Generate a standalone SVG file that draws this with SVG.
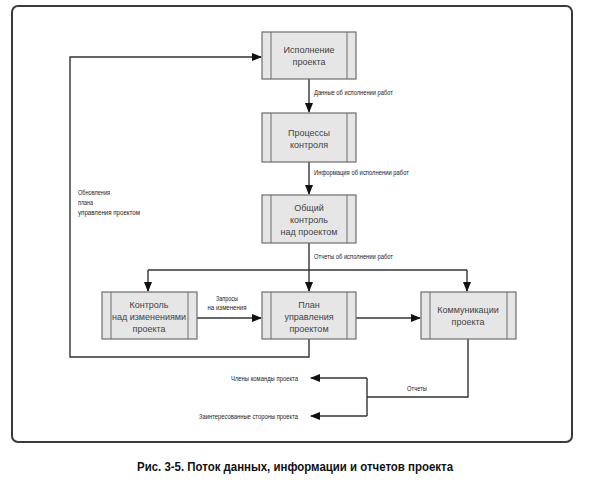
<svg xmlns="http://www.w3.org/2000/svg" width="591" height="485" viewBox="0 0 591 485">
<style>
.box{fill:#e6e6e6;stroke:#6d6d6d;stroke-width:1.2}
.in{stroke:#6d6d6d;stroke-width:1}
.bt{font-family:"Liberation Sans",Arial,sans-serif;font-size:9px;fill:#444;text-anchor:middle}
.lb{font-family:"Liberation Sans",Arial,sans-serif;font-size:7px;fill:#222}
.ln{fill:none;stroke:#333;stroke-width:1.4}
</style>
<defs>
<marker id="ah" markerWidth="10" markerHeight="8" refX="9" refY="4" orient="auto" markerUnits="userSpaceOnUse">
<path d="M0,0 L10,4 L0,8 Z" fill="#111"/>
</marker>
</defs>
<rect x="12" y="6" width="560" height="436" rx="6" fill="#fff" stroke="#3a3a3a" stroke-width="2"/>
<g id="connectors">
<path class="ln" d="M309,79 V112" marker-end="url(#ah)"/>
<path class="ln" d="M309,162 V194" marker-end="url(#ah)"/>
<path class="ln" d="M309,243 V270"/>
<path class="ln" d="M148,270 H467"/>
<path class="ln" d="M148,270 V291" marker-end="url(#ah)"/>
<path class="ln" d="M309,270 V291" marker-end="url(#ah)"/>
<path class="ln" d="M467,270 V291" marker-end="url(#ah)"/>
<path class="ln" d="M197,318 H261" marker-end="url(#ah)"/>
<path class="ln" d="M356,318 H420" marker-end="url(#ah)"/>
<path class="ln" d="M309,339 V357 H70 V57 H261" marker-end="url(#ah)"/>
<path class="ln" d="M468,339 V397 H367"/>
<path class="ln" d="M367,378 V416"/>
<path class="ln" d="M367,378 H311" marker-end="url(#ah)"/>
<path class="ln" d="M367,416 H311" marker-end="url(#ah)"/>
<text class="lb" x="314" y="95" textLength="79" lengthAdjust="spacingAndGlyphs">Данные об исполнении работ</text>
<text class="lb" x="314" y="175" textLength="95" lengthAdjust="spacingAndGlyphs">Информация об исполнении работ</text>
<text class="lb" x="314" y="259" textLength="79" lengthAdjust="spacingAndGlyphs">Отчеты об исполнении работ</text>
<text class="lb" x="78" y="195" textLength="32" lengthAdjust="spacingAndGlyphs">Обновления</text>
<text class="lb" x="78" y="205" textLength="15" lengthAdjust="spacingAndGlyphs">плана</text>
<text class="lb" x="78" y="215" textLength="62" lengthAdjust="spacingAndGlyphs">управления проектом</text>
<text class="lb" x="227" y="301" text-anchor="middle" textLength="22" lengthAdjust="spacingAndGlyphs">Запросы</text>
<text class="lb" x="227" y="310" text-anchor="middle" textLength="39" lengthAdjust="spacingAndGlyphs">на изменения</text>
<text class="lb" x="417" y="391" text-anchor="middle" textLength="20" lengthAdjust="spacingAndGlyphs">Отчеты</text>
<text class="lb" x="298" y="381" text-anchor="end" textLength="67" lengthAdjust="spacingAndGlyphs">Члены команды проекта</text>
<text class="lb" x="298" y="419" text-anchor="end" textLength="99" lengthAdjust="spacingAndGlyphs">Заинтересованные стороны проекта</text>
</g>
<g id="n1">
<rect class="box" x="262" y="32" width="94" height="47"/>
<path class="in" d="M271,32 V79 M347,32 V79"/>
<text class="bt" x="309" y="53">Исполнение</text>
<text class="bt" x="309" y="65">проекта</text>
</g>
<g id="n2">
<rect class="box" x="262" y="113" width="94" height="49"/>
<path class="in" d="M271,113 V162 M347,113 V162"/>
<text class="bt" x="309" y="136">Процессы</text>
<text class="bt" x="309" y="148">контроля</text>
</g>
<g id="n3">
<rect class="box" x="262" y="195" width="94" height="48"/>
<path class="in" d="M271,195 V243 M347,195 V243"/>
<text class="bt" x="309" y="211">Общий</text>
<text class="bt" x="309" y="223">контроль</text>
<text class="bt" x="309" y="235">над проектом</text>
</g>
<g id="n4">
<rect class="box" x="102" y="292" width="95" height="47"/>
<path class="in" d="M111,292 V339 M188,292 V339"/>
<text class="bt" x="149" y="308">Контроль</text>
<text class="bt" x="149" y="320">над изменениями</text>
<text class="bt" x="149" y="332">проекта</text>
</g>
<g id="n5">
<rect class="box" x="262" y="292" width="94" height="47"/>
<path class="in" d="M271,292 V339 M347,292 V339"/>
<text class="bt" x="309" y="308">План</text>
<text class="bt" x="309" y="320">управления</text>
<text class="bt" x="309" y="332">проектом</text>
</g>
<g id="n6">
<rect class="box" x="421" y="292" width="95" height="47"/>
<path class="in" d="M430,292 V339 M507,292 V339"/>
<text class="bt" x="468" y="313">Коммуникации</text>
<text class="bt" x="468" y="325">проекта</text>
</g>
<text x="295" y="471" text-anchor="middle" font-family="'Liberation Sans Narrow','Liberation Sans',Arial,sans-serif" font-weight="bold" font-size="13" fill="#111" textLength="316" lengthAdjust="spacingAndGlyphs">Рис. 3-5. Поток данных, информации и отчетов проекта</text>
</svg>
